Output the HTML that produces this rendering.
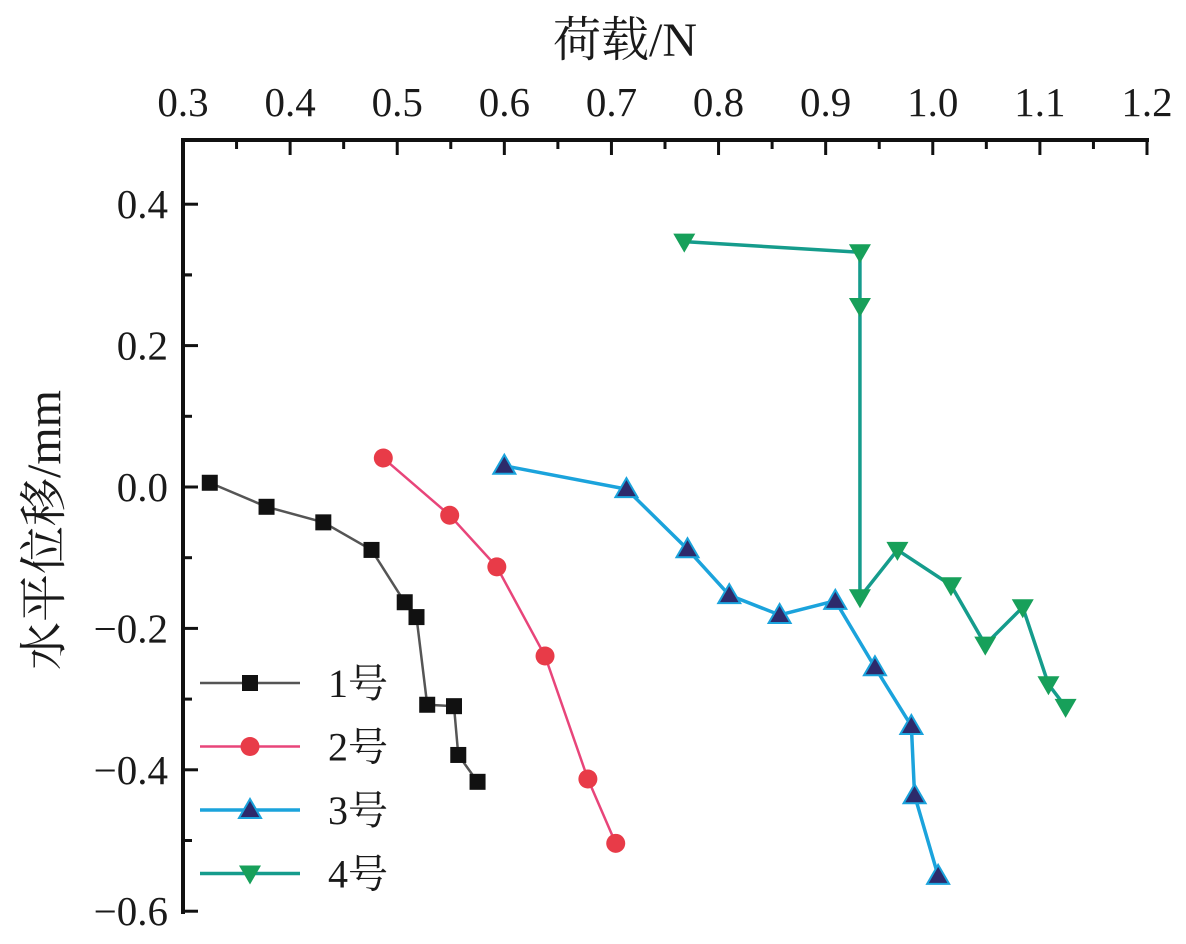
<!DOCTYPE html>
<html><head><meta charset="utf-8"><style>
body{margin:0;background:#fff;}
svg text{font-family:"Liberation Serif","Noto Serif CJK SC","Noto Sans CJK SC",serif;fill:#1a1a1a;}
</style></head><body>
<svg id="chart" width="1186" height="939" viewBox="0 0 1186 939" xmlns="http://www.w3.org/2000/svg">
<g id="axes"></g><g id="series"></g><g id="legend"></g>
</svg>
<script>
const xTicks=[0.3,0.4,0.5,0.6,0.7,0.8,0.9,1.0,1.1,1.2];
const xTickLabels=["0.3","0.4","0.5","0.6","0.7","0.8","0.9","1.0","1.1","1.2"];
const yTicks=[0.4,0.2,0.0,-0.2,-0.4,-0.6];
const yTickLabels=["0.4","0.2","0.0","\u22120.2","\u22120.4","\u22120.6"];
const s1x=[0.325,0.378,0.431,0.476,0.507,0.518,0.528,0.553,0.557,0.575];
const s1y=[0.006,-0.028,-0.050,-0.089,-0.163,-0.184,-0.308,-0.310,-0.379,-0.417];
const s2x=[0.487,0.549,0.593,0.638,0.678,0.704];
const s2y=[0.041,-0.040,-0.113,-0.239,-0.413,-0.504];
const s3x=[0.600,0.714,0.771,0.810,0.857,0.909,0.946,0.980,0.983,1.005];
const s3y=[0.030,-0.003,-0.088,-0.153,-0.181,-0.161,-0.255,-0.338,-0.436,-0.550];
const s4x=[0.768,0.932,0.932,0.932,0.967,1.017,1.049,1.084,1.108,1.124];
const s4y=[0.347,0.332,0.256,-0.156,-0.089,-0.139,-0.223,-0.170,-0.279,-0.311];
const seriesNames=["1号","2号","3号","4号"];

const NS="http://www.w3.org/2000/svg";
const X=v=>183+(v-0.3)/0.9*964;
const Y=v=>487-v/0.2*141.4;
function mk(tag,attrs,parent){const e=document.createElementNS(NS,tag);for(const k in attrs)e.setAttribute(k,attrs[k]);parent.appendChild(e);return e;}
const axes=document.getElementById('axes');
let e;
e=mk('line',{x1:183,y1:140,x2:1149,y2:140,stroke:'#111','stroke-width':4},axes);


e=mk('line',{x1:183,y1:138,x2:183,y2:914,stroke:'#111','stroke-width':4},axes);


xTicks.forEach((v,i)=>{
  let t=mk('line',{x1:X(v),y1:140,x2:X(v),y2:155,stroke:'#111','stroke-width':3},axes);
  
  
  if(i<xTicks.length-1){let m=mk('line',{x1:X(v+0.05),y1:140,x2:X(v+0.05),y2:149,stroke:'#111','stroke-width':3},axes);
  
  }
  let l=mk('text',{x:X(v),y:116,'text-anchor':'middle','font-size':41},axes);l.textContent=xTickLabels[i];
  
  
});
yTicks.forEach((v,i)=>{
  let t=mk('line',{x1:183,y1:Y(v),x2:198,y2:Y(v),stroke:'#111','stroke-width':3},axes);
  
  
  if(i<yTicks.length-1){let m=mk('line',{x1:183,y1:Y(v-0.1),x2:192,y2:Y(v-0.1),stroke:'#111','stroke-width':3},axes);
  
  }
  let l=mk('text',{x:168,y:Y(v)+14,'text-anchor':'end','font-size':41},axes);l.textContent=yTickLabels[i];
  
  
});
let m=mk('line',{x1:183,y1:Y(0.3),x2:192,y2:Y(0.3),stroke:'#111','stroke-width':3},axes);


let xt=mk('text',{x:625,y:56,'text-anchor':'middle','font-size':48},axes);xt.textContent="荷载/N";


let yt=mk('text',{x:0,y:0,'text-anchor':'middle','font-size':48,transform:'translate(60,530) rotate(-90)'},axes);yt.textContent="水平位移/mm";



const S=document.getElementById('series');
function marker(kind,cx,cy,parent){
  let el;
  if(kind==='sq') el=mk('rect',{x:cx-8,y:cy-8,width:16,height:16,fill:'#111'},parent);
  else if(kind==='ci') el=mk('circle',{cx,cy,r:9.5,fill:'#e83b48'},parent);
  else if(kind==='up') el=mk('polygon',{points:`${cx},${cy-11} ${cx-11},${cy+8} ${cx+11},${cy+8}`,fill:'#2d2a6b',stroke:'#1ba3dc','stroke-width':2},parent);
  else el=mk('polygon',{points:`${cx},${cy+11} ${cx-11},${cy-8} ${cx+11},${cy-8}`,fill:'#17a05a'},parent);
  return el;
}
const defs=[[s1x,s1y,'#555','sq',2.5],[s2x,s2y,'#e8457a','ci',2.5],[s3x,s3y,'#1ba3dc','up',3.5],[s4x,s4y,'#159c8c','dn',3.5]];
defs.forEach((d,k)=>{
  const g=mk('g',{},S);
  
  
  const pts=d[0].map((v,i)=>X(v)+','+Y(d[1][i])).join(' ');
  let pl=mk('polyline',{points:pts,fill:'none',stroke:d[2],'stroke-width':d[4]},g);
  
  
  d[0].forEach((v,i)=>{let mm=marker(d[3],X(v),Y(d[1][i]),g);
    
    });
});
const L=document.getElementById('legend');
defs.forEach((d,k)=>{
  const y=683+k*63.5;
  const g=mk('g',{},L);
  
  
  mk('line',{x1:200,y1:y,x2:300,y2:y,stroke:d[2],'stroke-width':d[4]},g);
  marker(d[3],250,y,g);
  let t=mk('text',{x:328,y:y+14,'font-size':40},g);t.textContent=seriesNames[k];
});
</script>
</body></html>
